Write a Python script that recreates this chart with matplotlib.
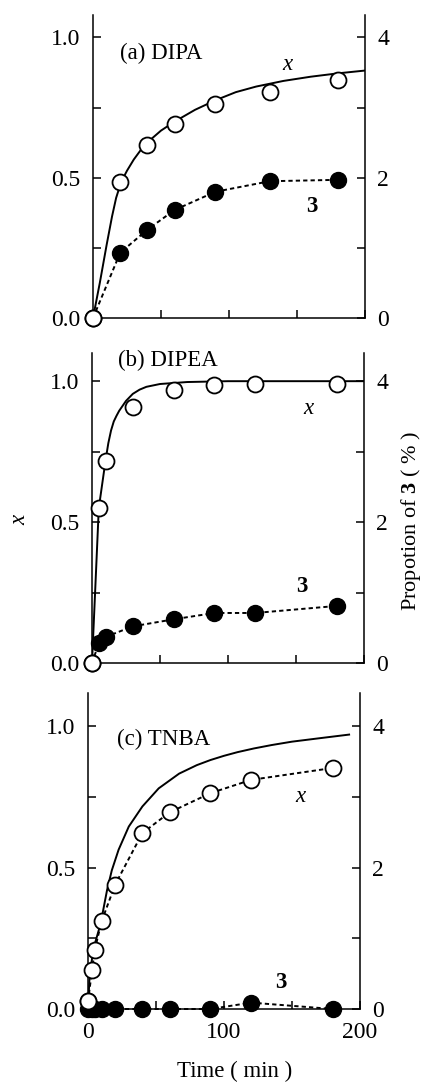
import matplotlib
matplotlib.use("Agg")
import matplotlib.pyplot as plt
from matplotlib.ticker import FixedLocator

plt.rcParams['font.family'] = ['Liberation Serif', 'DejaVu Serif']
plt.rcParams['mathtext.fontset'] = 'custom'
plt.rcParams['mathtext.rm'] = 'Liberation Serif'
plt.rcParams['mathtext.bf'] = 'Liberation Serif:bold'
plt.rcParams['mathtext.it'] = 'Liberation Serif:italic'

# ---------------- data ----------------
# (a) DIPA
t_a = [0, 20, 40, 60, 90, 130, 180]
xa_open = [0, 0.485, 0.615, 0.69, 0.762, 0.806, 0.848]
pa_filled = [0, 0.93, 1.26, 1.54, 1.80, 1.95, 1.97]
ta_fit = [0, 5, 10, 14, 17, 20, 22, 25, 30, 35, 40, 50, 60, 75, 90, 105,
          120, 140, 160, 180, 200]
xa_fit = [0, 0.125, 0.26, 0.362, 0.428, 0.474, 0.497, 0.525, 0.565, 0.598, 0.626, 0.668,
          0.70, 0.742, 0.776, 0.805, 0.825, 0.845, 0.86, 0.872, 0.882]

# (b) DIPEA
t_b = [0, 5, 10, 30, 60, 90, 120, 180]
xb_open = [0, 0.55, 0.716, 0.91, 0.97, 0.986, 0.99, 0.99]
pb_filled = [0, 0.28, 0.37, 0.52, 0.62, 0.71, 0.71, 0.81]
tb_fit = [0, 5, 10, 12, 14, 16, 18, 20, 25, 30, 35, 40, 50, 70, 100, 200]
xb_fit = [0, 0.55, 0.72, 0.78, 0.825, 0.857, 0.877, 0.895, 0.93, 0.955, 0.97, 0.98,
          0.99, 0.997, 1.0, 1.0]

# (c) TNBA
t_c = [0, 3, 5, 10, 20, 40, 60, 90, 120, 180]
xc_open = [0.027, 0.139, 0.21, 0.31, 0.44, 0.622, 0.695, 0.763, 0.81, 0.852]
pc_filled = [0, 0, 0, 0, 0, 0, 0, 0, 0.09, 0]
tc_fit = [0, 1, 3, 5, 8, 10, 14, 17.5, 22.5, 30, 40, 52, 67, 80, 90, 100, 110, 122,
          135, 150, 170, 192]
xc_fit = [0, 0.10, 0.18, 0.23, 0.28, 0.32, 0.42, 0.49, 0.563, 0.645, 0.716, 0.78,
          0.832, 0.862, 0.88, 0.895, 0.908, 0.921, 0.933, 0.945, 0.957, 0.97]

panel_titles = ["(a) DIPA", "(b) DIPEA", "(c) TNBA"]
left_ticks = [0.0, 0.5, 1.0]
left_minor = [0.25, 0.75]
right_ticks = [0, 2, 4]
right_minor = [1, 3]
x_ticks = [0, 50, 100, 150, 200]
x_labels = ["0", "", "100", "", "200"]

W, H = 424, 1082
fig = plt.figure(figsize=(W / 100, H / 100), dpi=100)

FS = 16.5
TFS = 17
LW_SP = 1.1
MS = 11.5

def px_axes(left, right, bottom, top):
    return [left / W, 1 - bottom / H, (right - left) / W, (bottom - top) / H]

boxes = [px_axes(93, 365, 318, 15), px_axes(92, 364, 663, 353), px_axes(88, 360, 1009, 693)]
ytops = [1.08, 1.10, 1.117]

datasets = [
    (t_a, xa_open, pa_filled, ta_fit, xa_fit, False),
    (t_b, xb_open, pb_filled, tb_fit, xb_fit, False),
    (t_c, xc_open, pc_filled, tc_fit, xc_fit, True),
]

title_pos = [(120, 53), (118, 360), (117, 739)]
xlab_pos = [(287, 65), (308, 408), (300, 797)]
three_pos = [(312, 207), (302, 587), (281, 983)]

dash = (0, (2.2, 1.6))

for i, (box, ytop, ds) in enumerate(zip(boxes, ytops, datasets)):
    t, xo, pf, tf, xf, open_dotted = ds
    ax = fig.add_axes(box)
    ax2 = ax.twinx()
    ax.set_xlim(0, 200)
    ax.set_ylim(0, ytop)
    ax2.set_ylim(0, ytop * 4)
    ax.set_zorder(ax2.get_zorder() + 1)
    ax.patch.set_visible(False)

    for a in (ax, ax2):
        a.spines['top'].set_visible(False)
        for s in a.spines.values():
            s.set_linewidth(LW_SP)
    ax2.spines['left'].set_visible(False)
    ax2.spines['bottom'].set_visible(False)
    ax.spines['right'].set_visible(False)

    # fitted curve
    ax.plot(tf, xf, color='black', lw=1.4, zorder=2, solid_joinstyle='round')
    # open circles
    ax.plot(t, xo, linestyle=dash if open_dotted else 'none', color='black', lw=1.4,
            marker='o', ms=MS, mfc='white', mec='black', mew=1.3, zorder=4, clip_on=False)
    # filled circles (right axis, %), drawn in x units (1.0 = 4 %)
    pf_x = [v / 4 for v in pf]
    ax.plot(t, pf_x, linestyle=dash, color='black', lw=1.4,
            marker='o', ms=MS, mfc='black', mec='black', mew=1.0, zorder=3, clip_on=False)
    # open circle at t=0 on top
    ax.plot(t[:1], xo[:1], linestyle='none', marker='o', ms=MS, mfc='white',
            mec='black', mew=1.3, zorder=6, clip_on=False)

    ax.set_yticks(left_ticks)
    ax.set_yticklabels([f"{v:.1f}" for v in left_ticks])
    ax.yaxis.set_minor_locator(FixedLocator(left_minor))
    ax2.set_yticks(right_ticks)
    ax2.set_yticklabels([str(v) for v in right_ticks])
    ax2.yaxis.set_minor_locator(FixedLocator(right_minor))
    ax.set_xticks(x_ticks)
    if i == 2:
        ax.set_xticklabels(x_labels)
    else:
        ax.set_xticklabels([""] * len(x_ticks))

    ax.tick_params(axis='both', which='both', direction='in', length=6, width=LW_SP,
                   labelsize=TFS, pad=9)
    ax.tick_params(axis='x', pad=9)
    ax2.tick_params(axis='y', which='both', direction='in', length=6, width=LW_SP,
                    labelsize=TFS, pad=9)

    tx, ty = title_pos[i]
    fig.text(tx / W, 1 - ty / H, panel_titles[i], fontsize=FS, ha='left', va='center')
    lx, ly = xlab_pos[i]
    fig.text(lx / W, 1 - ly / H, "x", fontsize=FS, style='italic', ha='center', va='center')
    nx, ny = three_pos[i]
    fig.text(nx / W, 1 - ny / H, "3", fontsize=FS, weight='bold', ha='center', va='center')

fig.text(20 / W, 1 - 520 / H, "x", fontsize=FS, style='italic', rotation=90,
         ha='center', va='center')
fig.text(411 / W, 1 - 521 / H, r"Propotion of $\mathbf{3}$ ( % )", fontsize=16,
         rotation=90, ha='center', va='center')
fig.text(235 / W, 1 - 1071 / H, "Time ( min )", fontsize=FS, ha='center', va='center')

fig.savefig("out.png", dpi=100)
